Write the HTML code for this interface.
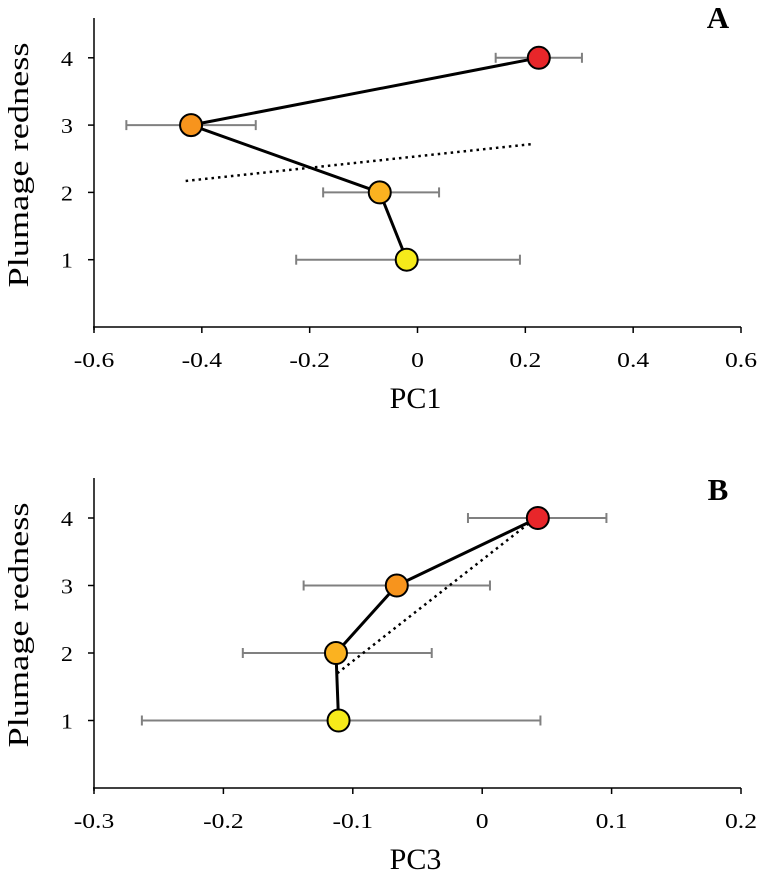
<!DOCTYPE html>
<html><head><meta charset="utf-8"><style>
body{margin:0;background:#fff}
svg text{font-family:"Liberation Serif",serif;fill:#000}
</style></head><body>
<svg id="chart" width="760" height="872" xmlns="http://www.w3.org/2000/svg"></svg>
<script>
const levels=[4,3,2,1];
const colors=['#e8262a','#f7941d','#fbb220','#f6ea1a'];
const pc1Means=[0.225,-0.42,-0.07,-0.02];
const pc1Lo=[0.145,-0.54,-0.175,-0.225];
const pc1Hi=[0.305,-0.30,0.04,0.19];
const pc1Trend=[[-0.43,2.17],[0.215,2.72]];
const pc1Ticks=[-0.6,-0.4,-0.2,0,0.2,0.4,0.6];
const pc1Labels=['-0.6','-0.4','-0.2','0','0.2','0.4','0.6'];
const pc3Means=[0.043,-0.066,-0.113,-0.111];
const pc3Lo=[-0.011,-0.138,-0.185,-0.263];
const pc3Hi=[0.096,0.006,-0.039,0.045];
const pc3Trend=[[-0.112,1.7],[0.04,3.98]];
const pc3Ticks=[-0.3,-0.2,-0.1,0,0.1,0.2];
const pc3Labels=['-0.3','-0.2','-0.1','0','0.1','0.2'];
const yTicks=[1,2,3,4];

const svg=document.getElementById('chart');
const NS='http://www.w3.org/2000/svg';
function mk(tag,attrs,parent){const e=document.createElementNS(NS,tag);for(const k in attrs)e.setAttribute(k,attrs[k]);(parent||svg).appendChild(e);return e;}

function panel(p){
  const g=mk('g',{});
  
  
  const x=v=>p.x0+(v-p.xmin)/(p.xmax-p.xmin)*(p.x1-p.x0);
  const y=v=>p.yBase-v*p.yStep;
  const ax=mk('line',{x1:p.x0-1,y1:p.yBase,x2:p.x1,y2:p.yBase,stroke:'#000','stroke-width':1.5},g);
  
  const ay=mk('line',{x1:p.x0,y1:p.yTop,x2:p.x0,y2:p.yBase+3,stroke:'#000','stroke-width':1.5},g);
  
  p.ticks.forEach((t,i)=>{
    mk('line',{x1:x(t),y1:p.yBase,x2:x(t),y2:p.yBase+6,stroke:'#000','stroke-width':1.5},g);
    const tx=mk('text',{transform:`translate(${x(t)} ${p.yBase+40}) scale(1.22 1)`,'text-anchor':'middle','font-size':21},g);
    tx.textContent=p.labels[i];
    
  });
  yTicks.forEach(t=>{
    mk('line',{x1:p.x0-6,y1:y(t),x2:p.x0,y2:y(t),stroke:'#000','stroke-width':1.5},g);
    const tx=mk('text',{transform:`translate(73 ${y(t)+8}) scale(1.15 1)`,'text-anchor':'end','font-size':21},g);
    tx.textContent=t;
    
  });
  const xt=mk('text',{x:(p.x0+p.x1)/2-2,y:p.yBase+81,'text-anchor':'middle','font-size':30},g);
  xt.textContent=p.xTitle;
  const cy=p.titleCy;
  const yt=mk('text',{x:28,y:cy,'text-anchor':'middle','font-size':29,textLength:245,lengthAdjust:'spacingAndGlyphs',transform:`rotate(-90 28 ${cy})`},g);
  yt.textContent='Plumage redness';
  const lt=mk('text',{x:718,y:p.letterY,'text-anchor':'middle','font-size':31,'font-weight':'bold'},g);
  lt.textContent=p.letter;
  levels.forEach((l,i)=>{
    const eb=mk('g',{stroke:'#808080','stroke-width':2},g);
    
    mk('line',{x1:x(p.lo[i]),y1:y(l),x2:x(p.hi[i]),y2:y(l)},eb);
    mk('line',{x1:x(p.lo[i]),y1:y(l)-5,x2:x(p.lo[i]),y2:y(l)+5},eb);
    mk('line',{x1:x(p.hi[i]),y1:y(l)-5,x2:x(p.hi[i]),y2:y(l)+5},eb);
  });
  const tr=mk('line',{x1:x(p.trend[0][0]),y1:y(p.trend[0][1]),x2:x(p.trend[1][0]),y2:y(p.trend[1][1]),stroke:'#000','stroke-width':2.5,'stroke-dasharray':'2.5 4'},g);
  
  const pl=mk('polyline',{points:levels.map((l,i)=>x(p.means[i])+','+y(l)).join(' '),fill:'none',stroke:'#000','stroke-width':3},g);
  
  levels.forEach((l,i)=>{
    const c=mk('circle',{cx:x(p.means[i]),cy:y(l),r:11,fill:colors[i],stroke:'#000','stroke-width':2},g);
    
  });
}
panel({name:'panel-a',x0:94,x1:741,xmin:-0.6,xmax:0.6,yBase:327,yStep:67.3,yTop:18,ticks:pc1Ticks,labels:pc1Labels,means:pc1Means,lo:pc1Lo,hi:pc1Hi,trend:pc1Trend,xTitle:'PC1',letter:'A',letterY:28,titleCy:165});
panel({name:'panel-b',x0:94,x1:741,xmin:-0.3,xmax:0.2,yBase:788,yStep:67.5,yTop:478,ticks:pc3Ticks,labels:pc3Labels,means:pc3Means,lo:pc3Lo,hi:pc3Hi,trend:pc3Trend,xTitle:'PC3',letter:'B',letterY:500,titleCy:625});
</script>
</body></html>
